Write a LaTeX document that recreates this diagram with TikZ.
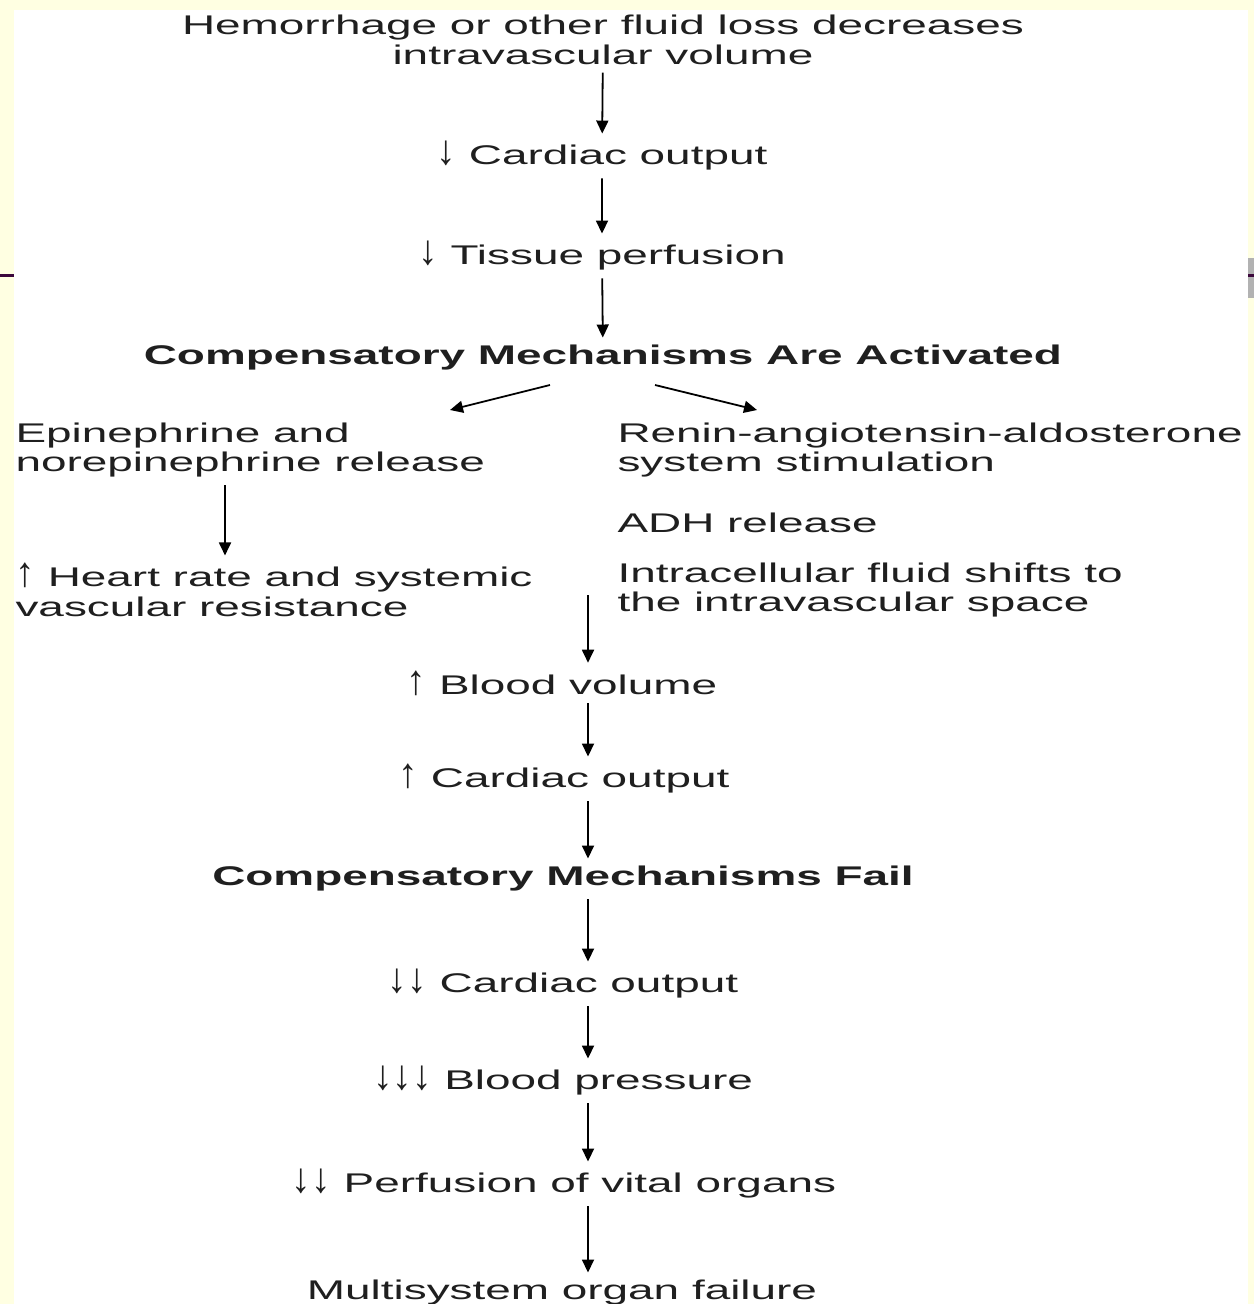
\documentclass[tikz,border=0pt]{standalone}
\usepackage{fontspec}
\setmainfont{Liberation Sans}
\usetikzlibrary{arrows.meta}
\definecolor{slideyellow}{RGB}{255,255,226}
\definecolor{slidepurple}{RGB}{60,8,60}
\newcommand{\dnarr}{\scalebox{0.85}[1.55]{↓}}
\newcommand{\uparr}{\scalebox{0.85}[1.55]{↑}}

\begin{document}
\begin{tikzpicture}[x=1pt,y=-1pt,->,>={Triangle[length=13pt,width=12pt]},shorten >=7pt,shorten <=7pt,line width=1.8pt,
    step node/.style={font=\fontsize{27}{29.5}\selectfont,xscale=1.7,inner sep=0pt,align=center,text=black!88},
    side node/.style={step node,align=left,anchor=west},
    head node/.style={step node,font=\fontsize{27}{29.5}\selectfont\bfseries}]
    % slide background
    \useasboundingbox (0,0) rectangle (1254,1304);
    \fill[slideyellow] (0,0) rectangle (1254,1304);
    \fill[white] (14,10) rectangle (1248,1304);
    \fill[black!30] (1248,258) rectangle (1254,298);
    \draw[-,shorten >=0pt,shorten <=0pt,slidepurple,line width=3pt] (0,275) -- (14,275);
    \draw[-,shorten >=0pt,shorten <=0pt,slidepurple,line width=3pt] (1248,275) -- (1254,275);

    \node[step node] (1) at (603,40) {Hemorrhage or other fluid loss decreases\\intravascular volume};
    \node[step node] (2) at (602,156) {\dnarr\ Cardiac output};
    \node[step node] (3) at (602,256) {\dnarr\ Tissue perfusion};
    \node[head node] (4) at (603,358) {Compensatory Mechanisms Are Activated};
    \node[side node] (5) at (14,450) {Epinephrine and\\norepinephrine release};
    \node[side node] (6) at (14,590) {\uparr\ Heart rate and systemic\\vascular resistance};
    \node[side node] (7) at (616,450) {Renin-angiotensin-aldosterone\\system stimulation};
    \node[side node] (8) at (616,523) {ADH release};
    \node[side node] (9) at (616,590) {Intracellular fluid shifts to\\the intravascular space};
    \node[step node] (10) at (562,683) {\uparr\ Blood volume};
    \node[step node] (11) at (564,779) {\uparr\ Cardiac output};
    \node[head node] (12) at (563,879) {Compensatory Mechanisms Fail};
    \node[step node] (13) at (563,984) {\dnarr\dnarr\ Cardiac output};
    \node[step node] (14) at (563,1081) {\dnarr\dnarr\dnarr\ Blood pressure};
    \node[step node] (15) at (564,1184) {\dnarr\dnarr\ Perfusion of vital organs};
    \node[step node] (16) at (562,1293) {Multisystem organ failure};

    \coordinate (l1) at (550,385);
    \coordinate (l2) at (450,410);
    \coordinate (r1) at (655,385);
    \coordinate (r2) at (757,410);
    \coordinate (c1) at (225,0);
    \coordinate (c2) at (588,595);

    \path
        (1) edge (2)
        (2) edge (3)
        (3) edge (4)
        (l1) edge[shorten <=0pt,shorten >=0pt] (l2)
        (r1) edge[shorten <=0pt,shorten >=0pt] (r2)
        (5.south -| c1) edge (6.north -| c1)
        (c2) edge[shorten <=0pt] (10.north -| c2)
        (10.south -| c2) edge (11.north -| c2)
        (11.south -| c2) edge (12.north -| c2)
        (12.south -| c2) edge (13.north -| c2)
        (13.south -| c2) edge (14.north -| c2)
        (14.south -| c2) edge (15.north -| c2)
        (15.south -| c2) edge (16.north -| c2)
    ;
\end{tikzpicture}
\end{document}
